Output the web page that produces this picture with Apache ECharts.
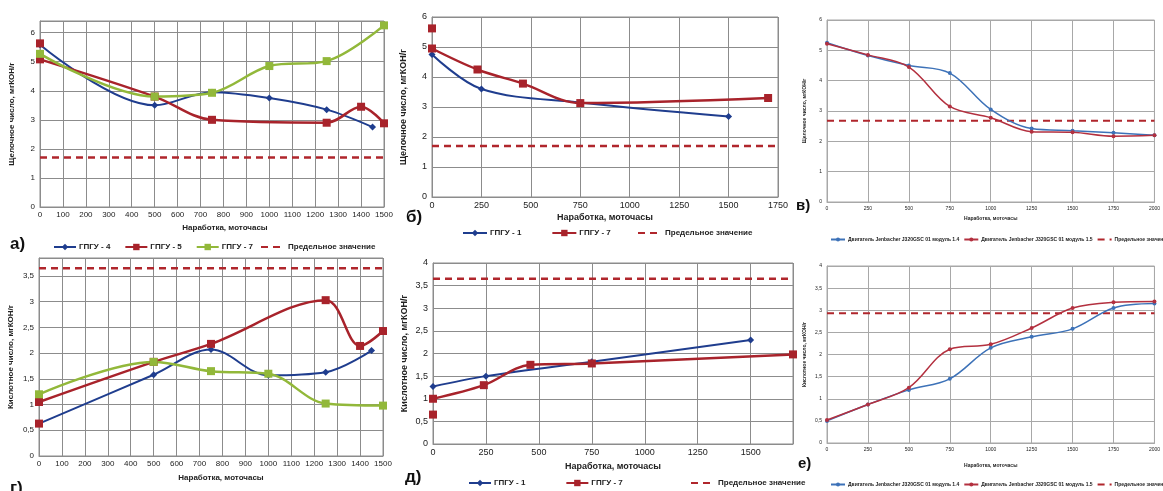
<!DOCTYPE html>
<html>
<head>
<meta charset="utf-8">
<script src="https://cdn.jsdelivr.net/npm/echarts@6/dist/echarts.min.js"></script>
<style>
html, body { margin: 0; padding: 0; background: #fff; }
#chart { width: 1163px; height: 491px; }
</style>
</head>
<body>
<div id="chart"></div>
<script>
// panel а) - alkaline number, ГПГУ-4/5/7
var aX4 = [0, 500, 750, 1000, 1250, 1450];
var aY4 = [5.58, 3.5, 3.95, 3.75, 3.35, 2.75];
var aX5 = [0, 500, 750, 1250, 1400, 1500];
var aY5 = [5.08, 3.8, 3.0, 2.9, 3.45, 2.88];
var aX5first = [0];
var aY5first = [5.63];
var aX7 = [0, 500, 750, 1000, 1250, 1500];
var aY7 = [5.27, 3.8, 3.93, 4.85, 5.02, 6.25];
var aLimit = 1.7;

// panel б) - alkaline number, ГПГУ-1/7
var bX1 = [0, 250, 750, 1500];
var bY1 = [4.75, 3.6, 3.15, 2.68];
var bX7 = [0, 230, 460, 750, 1700];
var bY7 = [4.95, 4.25, 3.78, 3.13, 3.3];
var bX7first = [0];
var bY7first = [5.62];
var bLimit = 1.7;

// panel в) and е) - Jenbacher modules
var jX = [0, 250, 500, 750, 1000, 1250, 1500, 1750, 2000];
var vY14 = [5.25, 4.83, 4.5, 4.25, 3.05, 2.42, 2.35, 2.28, 2.2];
var vY15 = [5.22, 4.85, 4.45, 3.15, 2.78, 2.32, 2.3, 2.17, 2.2];
var vLimit = 2.68;
var eY14 = [0.5, 0.87, 1.2, 1.45, 2.15, 2.4, 2.58, 3.05, 3.15];
var eY15 = [0.52, 0.87, 1.25, 2.12, 2.23, 2.6, 3.05, 3.18, 3.2];
var eLimit = 2.93;

// panel г) - acid number, ГПГУ-4/5/7
var gX4 = [0, 500, 750, 1000, 1250, 1450];
var gY4 = [0.63, 1.58, 2.07, 1.57, 1.63, 2.05];
var gX5 = [0, 500, 750, 1250, 1400, 1500];
var gY5 = [1.05, 1.83, 2.18, 3.03, 2.14, 2.43];
var gX5first = [0];
var gY5first = [0.63];
var gX7 = [0, 500, 750, 1000, 1250, 1500];
var gY7 = [1.2, 1.83, 1.65, 1.6, 1.02, 0.98];
var gLimit = 3.65;

// panel д) - acid number, ГПГУ-1/7
var dX1 = [0, 250, 750, 1500];
var dY1 = [1.27, 1.5, 1.82, 2.3];
var dX7 = [0, 240, 460, 750, 1700];
var dY7 = [1.0, 1.3, 1.75, 1.78, 1.98];
var dX7first = [0];
var dY7first = [0.65];
var dLimit = 3.65;

var alkTitle = 'Щелочное число, мгКОН/г';
var acidTitle = 'Кислотное число, мгКОН/г';
var xTitle = 'Наработка, моточасы';
var jName14 = 'Двигатель Jenbacher J320GSC 01 модуль 1.4';
var jName15 = 'Двигатель Jenbacher J320GSC 01 модуль 1.5';
var limitName = 'Предельное значение';

var blue = '#1f3d8e';
var red = '#a8232b';
var green = '#92b83a';
var jBlue = '#3d72b8';
var jRed = '#b3303f';
var dash = '#b0262c';
var gridCol = '#8c8c8c';
var jGridCol = '#a8a8a8';

var myChart = echarts.init(document.getElementById('chart'));

function zip(xs, ys) {
	var out = [];
	for (var i = 0; i < xs.length; i++) {
		out.push([xs[i], ys[i]]);
	}
	return out;
}

function line(name, g, xs, ys, color, symbol, size, width) {
	return {
		name: name,
		type: 'line',
		xAxisIndex: g,
		yAxisIndex: g,
		data: zip(xs, ys),
		smooth: 0.35,
		symbol: symbol,
		symbolSize: size,
		lineStyle: { color: color, width: width },
		itemStyle: { color: color },
		z: 3
	};
}

function limit(name, g, xmax, v, width) {
	return {
		name: name,
		type: 'line',
		xAxisIndex: g,
		yAxisIndex: g,
		data: zip([0, xmax], [v, v]),
		symbol: 'none',
		lineStyle: { color: dash, width: width, type: [7, 5] },
		itemStyle: { color: dash },
		z: 2
	};
}

function xAxis(g, max, interval, fs, gap, col, shift) {
	return {
		gridIndex: g,
		type: 'value',
		min: 0,
		max: max,
		interval: interval,
		name: xTitle,
		nameLocation: 'middle',
		nameGap: gap,
		nameTextStyle: { fontSize: fs, fontWeight: 'bold', color: '#222', padding: [0, 0, 0, shift] },
		axisLine: { lineStyle: { color: col } },
		axisTick: { show: false },
		axisLabel: {
			fontSize: fs, color: '#222', margin: 4,
			formatter: function (v) { return v % interval === 0 ? String(v) : ''; }
		},
		splitLine: { lineStyle: { color: col, width: 1 } }
	};
}

function yAxis(g, max, interval, fs, gap, title, col) {
	return {
		gridIndex: g,
		type: 'value',
		min: 0,
		max: max,
		interval: interval,
		name: title,
		nameLocation: 'middle',
		nameGap: gap,
		nameTextStyle: { fontSize: fs, fontWeight: 'bold', color: '#222' },
		axisLine: { show: true, lineStyle: { color: col } },
		axisTick: { show: false },
		axisLabel: {
			fontSize: fs, color: '#222', margin: 5,
			formatter: function (v) {
				if (Math.abs(v / interval - Math.round(v / interval)) > 1e-6) return '';
				return String(v).replace('.', ',');
			}
		},
		splitLine: { lineStyle: { color: col, width: 1 } }
	};
}

// legend entries for limit lines get an invisible symbol (dashes only)
function legendItems(names) {
	return names.map(function (n) {
		if (n.indexOf(limitName) >= 0) {
			return { name: n, itemStyle: { opacity: 0 } };
		}
		return n;
	});
}

function legend(names, left, top, fs, iw, gap) {
	return {
		data: legendItems(names),
		left: left,
		top: top,
		width: 600,
		itemWidth: iw,
		itemHeight: fs,
		itemGap: gap,
		padding: 0,
		selectedMode: false,
		formatter: function (n) { return n.split('|')[1]; },
		textStyle: { fontSize: fs, fontWeight: 'bold', color: '#222', padding: [0, 0, 0, -2] }
	};
}

function letter(txt, x, y, fs) {
	return {
		type: 'text', left: x, top: y,
		style: { text: txt, font: 'bold ' + fs + 'px Liberation Sans, Arial, sans-serif', fill: '#111' }
	};
}

var option = {
	backgroundColor: '#fff',
	textStyle: { fontFamily: 'Liberation Sans, Arial, sans-serif' },
	animation: false,
	grid: [
		{ left: 40, top: 21, width: 344, height: 186, show: true, borderColor: gridCol },
		{ left: 432, top: 17, width: 346, height: 180, show: true, borderColor: gridCol },
		{ left: 827, top: 20, width: 340, height: 182, show: true, borderColor: jGridCol },
		{ left: 39, top: 258, width: 344, height: 198, show: true, borderColor: gridCol },
		{ left: 433, top: 263, width: 360, height: 181, show: true, borderColor: gridCol },
		{ left: 827, top: 266, width: 340, height: 177, show: true, borderColor: jGridCol }
	],
	xAxis: [
		xAxis(0, 1500, 100, 8, 17, gridCol, 26),
		xAxis(1, 1750, 250, 9, 16, gridCol, 0),
		xAxis(2, 2000, 250, 5, 14, jGridCol, 0),
		xAxis(3, 1500, 100, 8, 18, gridCol, 20),
		xAxis(4, 1700, 250, 9, 18, gridCol, 0),
		xAxis(5, 2000, 250, 5, 20, jGridCol, 0)
	],
	yAxis: [
		yAxis(0, 6.4, 1, 8, 24, alkTitle, gridCol),
		yAxis(1, 6, 1, 9, 24, alkTitle, gridCol),
		yAxis(2, 6, 1, 5, 20, alkTitle, jGridCol),
		yAxis(3, 3.85, 0.5, 8, 24, acidTitle, gridCol),
		yAxis(4, 4, 0.5, 9, 24, acidTitle, gridCol),
		yAxis(5, 4, 0.5, 5, 20, acidTitle, jGridCol)
	],
	legend: [
		legend(['а|ГПГУ - 4', 'а|ГПГУ - 5', 'а|ГПГУ - 7'], 53, 243, 8, 22, 14),
		legend(['а|' + limitName], 260, 243, 8, 24, 0),
		legend(['б|ГПГУ - 1', 'б|ГПГУ - 7'], 462, 229, 8, 24, 30),
		legend(['б|' + limitName], 637, 229, 8, 24, 0),
		legend(['в|' + jName14, 'в|' + jName15, 'в|' + limitName], 830, 237, 5, 14, 4),
		legend(['д|ГПГУ - 1', 'д|ГПГУ - 7'], 468, 479, 8, 22, 40),
		legend(['д|' + limitName], 690, 479, 8, 24, 0),
		legend(['е|' + jName14, 'е|' + jName15, 'е|' + limitName], 830, 482, 5, 14, 4)
	],
	graphic: [
		letter('а)', 10, 236, 17),
		letter('б)', 406, 209, 17),
		letter('в)', 796, 198, 15),
		letter('г)', 10, 480, 17),
		letter('д)', 405, 469, 17),
		letter('е)', 798, 456, 15)
	],
	series: [
		// а)
		limit('а|' + limitName, 0, 1500, aLimit, 2.5),
		line('а|ГПГУ - 4', 0, aX4, aY4, blue, 'diamond', 7, 2),
		line('а|ГПГУ - 5', 0, aX5, aY5, red, 'rect', 8, 2.5),
		line('а|ГПГУ - 7', 0, aX7, aY7, green, 'rect', 8, 2.5),
		line('а|first5', 0, aX5first, aY5first, red, 'rect', 8, 0),
		// б)
		limit('б|' + limitName, 1, 1750, bLimit, 2.5),
		line('б|ГПГУ - 1', 1, bX1, bY1, blue, 'diamond', 7, 2),
		line('б|ГПГУ - 7', 1, bX7, bY7, red, 'rect', 8, 2.5),
		line('б|first7', 1, bX7first, bY7first, red, 'rect', 8, 0),
		// в)
		limit('в|' + limitName, 2, 2000, vLimit, 2),
		line('в|' + jName14, 2, jX, vY14, jBlue, 'circle', 4, 1.5),
		line('в|' + jName15, 2, jX, vY15, jRed, 'circle', 4, 1.5),
		// г)
		limit('г|' + limitName, 3, 1500, gLimit, 2.5),
		line('г|ГПГУ - 4', 3, gX4, gY4, blue, 'diamond', 7, 2),
		line('г|ГПГУ - 5', 3, gX5, gY5, red, 'rect', 8, 2.5),
		line('г|ГПГУ - 7', 3, gX7, gY7, green, 'rect', 8, 2.5),
		line('г|first5', 3, gX5first, gY5first, red, 'rect', 8, 0),
		// д)
		limit('д|' + limitName, 4, 1700, dLimit, 2.5),
		line('д|ГПГУ - 1', 4, dX1, dY1, blue, 'diamond', 7, 2),
		line('д|ГПГУ - 7', 4, dX7, dY7, red, 'rect', 8, 2.5),
		line('д|first7', 4, dX7first, dY7first, red, 'rect', 8, 0),
		// е)
		limit('е|' + limitName, 5, 2000, eLimit, 2),
		line('е|' + jName14, 5, jX, eY14, jBlue, 'circle', 4, 1.5),
		line('е|' + jName15, 5, jX, eY15, jRed, 'circle', 4, 1.5)
	]
};

myChart.setOption(option);
</script>
</body>
</html>
